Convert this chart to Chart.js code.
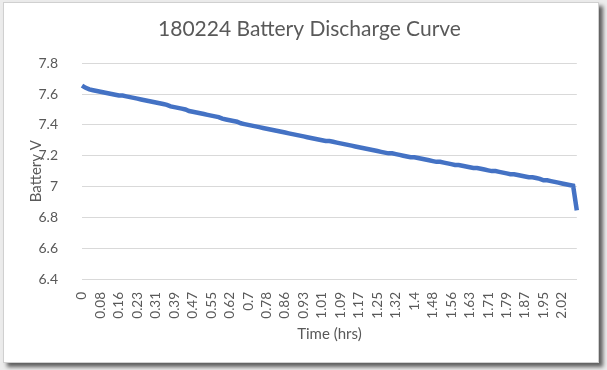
<!DOCTYPE html>
<html>
<head>
<meta charset="utf-8">
<script src="https://cdn.jsdelivr.net/npm/chart.js@4"></script>
<style>
  html, body { margin: 0; padding: 0; background: #ececec; }
  body { width: 607px; height: 370px; position: relative; overflow: hidden; }
  #box {
    position: absolute; left: 3px; top: 2px; width: 594px; height: 359px;
    background: #fff; border: 1px solid #d0d0d0;
    box-shadow: 4px 4px 4px rgba(0, 0, 0, 0.6);
  }
  canvas { display: block; }
</style>
</head>
<body>
<div id="box"><canvas id="dischargeChart" width="594" height="359"></canvas></div>
<script>
// x tick labels, one every 5 readings (time in hrs)
const tickLabels = [
  "0", "0.08", "0.16", "0.23", "0.31", "0.39", "0.47", "0.55", "0.62",
  "0.7", "0.78", "0.86", "0.93", "1.01", "1.09", "1.17", "1.25", "1.32",
  "1.4", "1.48", "1.56", "1.63", "1.71", "1.79", "1.87", "1.95", "2.02",
];
const perTick = 5;

// battery voltage readings
const volts = [
  7.655, 7.64, 7.63, 7.625, 7.62,
  7.615, 7.61, 7.605, 7.6, 7.595,
  7.59, 7.59, 7.585, 7.58, 7.575,
  7.57, 7.565, 7.56, 7.555, 7.55,
  7.545, 7.54, 7.535, 7.53, 7.52,
  7.515, 7.51, 7.505, 7.5, 7.49,
  7.485, 7.48, 7.475, 7.47, 7.465,
  7.46, 7.455, 7.45, 7.44, 7.435,
  7.43, 7.425, 7.42, 7.41, 7.405,
  7.4, 7.395, 7.39, 7.385, 7.38,
  7.375, 7.37, 7.365, 7.36, 7.355,
  7.35, 7.345, 7.34, 7.335, 7.33,
  7.325, 7.32, 7.315, 7.31, 7.305,
  7.3, 7.295, 7.295, 7.29, 7.285,
  7.28, 7.275, 7.27, 7.265, 7.26,
  7.255, 7.25, 7.245, 7.24, 7.235,
  7.23, 7.225, 7.22, 7.215, 7.215,
  7.21, 7.205, 7.2, 7.195, 7.19,
  7.19, 7.185, 7.18, 7.175, 7.17,
  7.165, 7.16, 7.16, 7.155, 7.15,
  7.145, 7.14, 7.14, 7.135, 7.13,
  7.125, 7.12, 7.12, 7.115, 7.11,
  7.105, 7.1, 7.1, 7.095, 7.09,
  7.085, 7.08, 7.08, 7.075, 7.07,
  7.065, 7.06, 7.06, 7.055, 7.05,
  7.04, 7.04, 7.035, 7.03, 7.025,
  7.02, 7.015, 7.01, 7.005, 6.845,
];

const yTicks = { min: 6.4, max: 7.8, step: 0.2 };

const labels = volts.map(function (v, i) {
  return i % perTick === 0 ? tickLabels[i / perTick] : "";
});

const grey = "#595959";
const fontFamily = "Lato, 'Open Sans', sans-serif";

const ctx = document.getElementById("dischargeChart").getContext("2d");
const chart = new Chart(ctx, {
  type: "line",
  data: {
    labels: labels,
    datasets: [
      {
        label: "Battery V",
        data: volts,
        borderColor: "#4472C4",
        borderWidth: 4.5,
        pointRadius: 0,
        tension: 0,
        fill: false,
      },
    ],
  },
  options: {
    responsive: false,
    animation: false,
    layout: { padding: { left: 23, right: 6, top: 0, bottom: 19 } },
    plugins: {
      legend: { display: false },
      tooltip: { enabled: false },
      title: {
        display: true,
        text: "180224 Battery Discharge Curve",
        color: grey,
        font: { family: fontFamily, size: 21, weight: "normal" },
        padding: { top: 14, bottom: 21 },
      },
    },
    scales: {
      x: {
        type: "category",
        offset: false,
        grid: { display: false },
        border: { display: true, color: "#d9d9d9", width: 1 },
        afterFit: function (scale) {
          scale.height = 64;
        },
        ticks: {
          autoSkip: false,
          maxRotation: 90,
          minRotation: 90,
          color: grey,
          padding: 5,
          font: { family: fontFamily, size: 13.5 },
          callback: function (value, index) {
            return labels[index];
          },
        },
        title: {
          display: true,
          text: "Time (hrs)",
          color: grey,
          font: { family: fontFamily, size: 15 },
          padding: { top: 2, bottom: 0 },
        },
      },
      y: {
        min: yTicks.min,
        max: yTicks.max,
        grid: { color: "#d9d9d9", drawTicks: false },
        border: { display: false },
        afterFit: function (scale) {
          scale.width = 55;
        },
        ticks: {
          stepSize: yTicks.step,
          color: grey,
          padding: 24,
          font: { family: fontFamily, size: 14 },
          callback: function (value) {
            return String(Number(value.toFixed(1)));
          },
        },
        title: {
          display: true,
          text: "Battery V",
          color: grey,
          font: { family: fontFamily, size: 15 },
          padding: { top: 0, bottom: 0 },
        },
      },
    },
  },
});
</script>
</body>
</html>
